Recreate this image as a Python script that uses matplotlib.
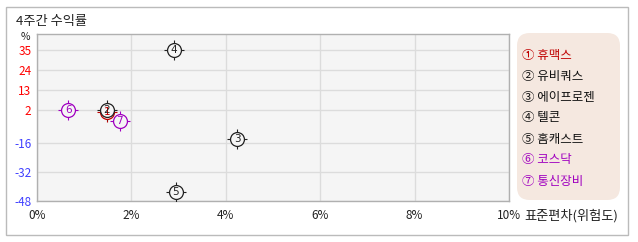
import matplotlib
matplotlib.use("Agg")
import matplotlib.pyplot as plt
from matplotlib.patches import FancyBboxPatch, Rectangle

plt.rcParams['font.family'] = ['Noto Sans CJK KR', 'DejaVu Sans']

# ---- data ----
names = ['휴맥스', '유비쿼스', '에이프로젠', '텔콘', '홈캐스트', '코스닥', '통신장비']
symbols = ['①', '②', '③', '④', '⑤', '⑥', '⑦']
digits = ['1', '2', '3', '4', '5', '6', '7']
risk = [1.48, 1.48, 4.24, 2.9, 2.94, 0.66, 1.75]      # 표준편차 (%)
ret = [1.0, 2.0, -14.0, 35.0, -43.0, 1.8, -4.0]        # 4주간 수익률 (%)
colors = ['#c00000', '#222222', '#222222', '#222222', '#222222', '#a000c0', '#a000c0']
legend_colors = ['#c00000', '#111111', '#111111', '#111111', '#111111', '#a000c0', '#a000c0']
xticks = [0, 2, 4, 6, 8, 10]
xticklabels = ['0%', '2%', '4%', '6%', '8%', '10%']
yticks = [35, 24, 13, 2, -16, -32, -48]
yticklabels = ['35', '24', '13', '2', '-16', '-32', '-48']

W, H = 638, 242
fig = plt.figure(figsize=(W / 100, H / 100), dpi=100)

# outer frame
fig.patches.append(Rectangle((6 / W, 1 - 235 / H), (628 - 6) / W, (235 - 7) / H,
                             transform=fig.transFigure, fill=False,
                             edgecolor='#bbbbbb', linewidth=1.0))

ax = fig.add_axes([37 / W, 1 - 201 / H, (509 - 37) / W, (201 - 34) / H])
ax.set_facecolor('#f5f5f5')
ax.set_xlim(0, 10)
ax.set_ylim(-48, 43.8)
ax.set_xticks(xticks)
ax.set_xticklabels(xticklabels, fontsize=8.5, color='#222222')
ax.set_yticks(yticks)
ax.set_yticklabels(yticklabels, fontsize=8.5)
for lbl, v in zip(ax.get_yticklabels(), yticks):
    lbl.set_color('#ff0000' if v >= 0 else '#4040ff')
ax.tick_params(length=0, pad=4)
ax.tick_params(axis='x', pad=6)
ax.grid(True, color='#dcdcdc', linewidth=1.0)
ax.set_axisbelow(True)
for s in ax.spines.values():
    s.set_color('#b0b0b0')
    s.set_linewidth(1.0)

# markers
for x, y, c, d in zip(risk, ret, colors, digits):
    ax.plot(x, y, marker='+', markersize=14, markeredgewidth=0.8, color=c, zorder=3)
    ax.plot(x, y, marker='o', markersize=10, markeredgewidth=0.9,
            markerfacecolor='#f5f5f5', markeredgecolor=c, zorder=4)
    ax.text(x, y, d, fontsize=7.5, color=c, ha='center', va='center', zorder=5,
            family='DejaVu Sans')

# texts
fig.text(16 / W, 1 - 21 / H, '4주간 수익률', fontsize=9.5, color='#222222', va='center', ha='left')
fig.text(25 / W, 1 - 37 / H, '%', fontsize=7.5, color='#222222', va='center', ha='center')
fig.text(524 / W, 1 - 216 / H, '표준편차(위험도)', fontsize=9.5, color='#222222', va='center', ha='left')

# legend box
fig.patches.append(FancyBboxPatch((517 / W, 1 - 200 / H), (620 - 517) / W, (200 - 33) / H,
                                  boxstyle='round,pad=0,rounding_size=0.02',
                                  transform=fig.transFigure, facecolor='#f5e8e0',
                                  edgecolor='none', mutation_aspect=W / H))
for i, (s, n, c) in enumerate(zip(symbols, names, legend_colors)):
    fig.text(522 / W, 1 - (55 + i * 21) / H, f'{s} {n}', fontsize=9, color=c,
             va='center', ha='left')

fig.savefig('out.png', dpi=100)
